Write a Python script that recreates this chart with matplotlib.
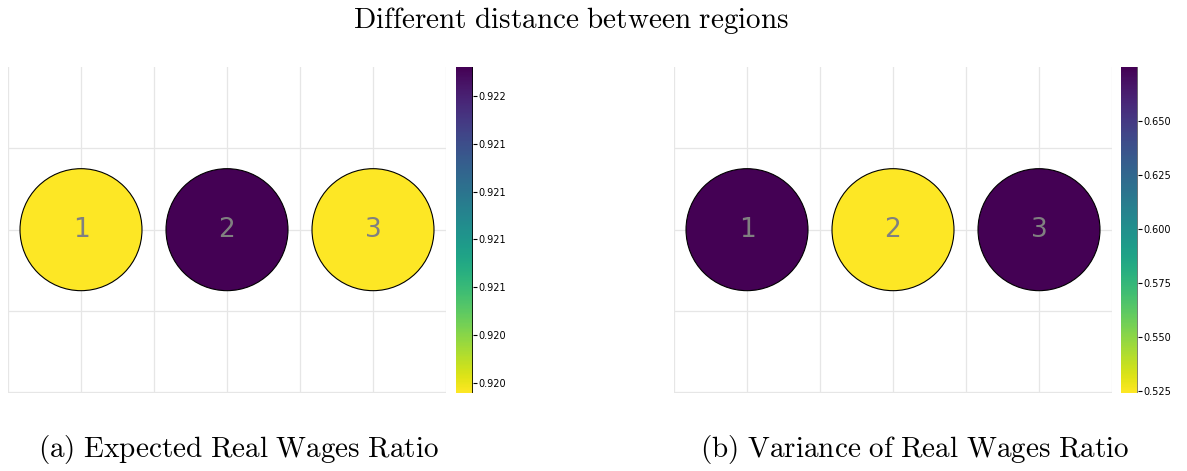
import matplotlib
matplotlib.use("Agg")
import matplotlib.pyplot as plt
import numpy as np

plt.rcParams['mathtext.fontset'] = 'cm'

# data
regions = ['1', '2', '3']
x_pos = [0, 1, 2]
y_pos = [0, 0, 0]
expected_ratio = [0.919887, 0.921932, 0.919887]
variance_ratio = [0.6750, 0.5241, 0.6750]
expected_ticks = [0.91995, 0.92025, 0.92055, 0.92085, 0.92115, 0.92145, 0.92175]
variance_ticks = [0.525, 0.550, 0.575, 0.600, 0.625, 0.650]

W, H = 1187, 471
fig = plt.figure(figsize=(W / 100, H / 100), dpi=100)

fig.text(571 / W, 1 - 20 / H, r'$\mathrm{Different\ distance\ between\ regions}$',
         ha='center', va='center', fontsize=21)


def region_panel(ax_x, cax_x, values, ticks, caption, cap_x, outline_color):
    ax = fig.add_axes([ax_x / W, (H - 393) / H, 438 / W, 326 / H])
    cax = fig.add_axes([cax_x / W, (H - 393) / H, 17 / W, 326 / H])

    sc = ax.scatter(x_pos, y_pos, c=values, cmap='viridis_r', s=7716,
                    edgecolors='black', linewidths=0.8, zorder=3)
    for xi, yi, lab in zip(x_pos, y_pos, regions):
        ax.text(xi, yi, lab, ha='center', va='center', fontsize=19,
                color='#808080', zorder=4)

    ax.set_xlim(-0.5, 2.5)
    ax.set_ylim(-1.004, 1)
    ax.set_xticks(np.arange(-0.5, 2.51, 0.5))
    ax.set_yticks([-1, -0.5, 0, 0.5])
    ax.tick_params(length=0, labelbottom=False, labelleft=False)
    ax.grid(True, color='#e6e6e6', linewidth=0.9)
    ax.set_axisbelow(True)
    for sp in ax.spines.values():
        sp.set_visible(False)

    cb = fig.colorbar(sc, cax=cax)
    cb.outline.set_visible(False)
    cax.axvline(1, color=outline_color, linewidth=1.2)
    cb.set_ticks(ticks)
    cb.ax.yaxis.set_major_formatter(matplotlib.ticker.FormatStrFormatter('%.3f'))
    cax.tick_params(labelsize=7, length=3, width=0.8, pad=1)

    fig.text(cap_x / W, 1 - 450 / H, caption, ha='center', va='center',
             fontsize=21)
    return ax


region_panel(8, 456, expected_ratio, expected_ticks,
             r'$\mathrm{(a)\ Expected\ Real\ Wages\ Ratio}$', 238, 'black')
region_panel(674, 1121, variance_ratio, variance_ticks,
             r'$\mathrm{(b)\ Variance\ of\ Real\ Wages\ Ratio}$', 915, '#777777')

fig.savefig('out.png', dpi=100)
